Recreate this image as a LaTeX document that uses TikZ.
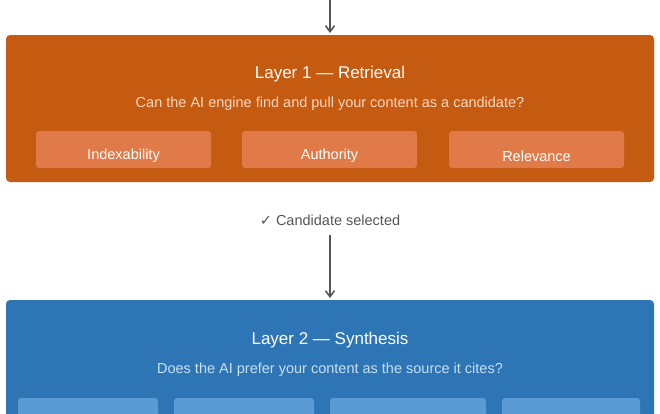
\documentclass[tikz,border=0pt]{standalone}
\usepackage{fontspec}
\setmainfont{Liberation Sans}
\newfontfamily\symfont{DejaVu Sans}
\usetikzlibrary{arrows.meta}
\definecolor{retOrange}{HTML}{C55A11}
\definecolor{retLight}{HTML}{E07A48}
\definecolor{retText}{HTML}{FBD9C2}
\definecolor{synBlue}{HTML}{2E75B6}
\definecolor{synLight}{HTML}{5B9BD5}
\definecolor{synText}{HTML}{C9DFF2}
\definecolor{flowGray}{HTML}{555555}
\begin{document}
\begin{tikzpicture}[x=1pt,y=1pt,yscale=-1,
  layer/.style={rounded corners=4pt},
  factor/.style={rounded corners=3pt},
  flow/.style={draw=flowGray,line width=1.6pt,-{Straight Barb[length=6pt,width=9pt]}},
  title/.style={text=white,font=\fontsize{17}{20}\selectfont},
  question/.style={font=\fontsize{14.5}{17}\selectfont},
  factorlabel/.style={text=white,font=\fontsize{14.5}{17}\selectfont}]
\useasboundingbox (0,0) rectangle (660,413);

%Layer 1
\fill[retOrange,layer] (6,35) rectangle (654,182);
\node[title] (l1title) at (330,74) {Layer 1 — Retrieval};
\node[question,text=retText] (l1q) at (330,104) {Can the AI engine find and pull your content as a candidate?};
\fill[retLight,factor] (36,131) rectangle (211,168);
\fill[retLight,factor] (242,131) rectangle (417,168);
\fill[retLight,factor] (449,131) rectangle (624,168);
\node[factorlabel] (idx) at (123.5,156) {Indexability};
\node[factorlabel] (auth) at (329.5,156) {Authority};
\node[factorlabel] (rel) at (536.5,156) {Relevance};

%Layer 2
\fill[synBlue,layer] (6,300) rectangle (654,430);
\node[title] (l2title) at (330,340) {Layer 2 — Synthesis};
\node[question,text=synText] (l2q) at (330,370) {Does the AI prefer your content as the source it cites?};
\fill[synLight,factor] (18,398) rectangle (158,430);
\fill[synLight,factor] (174,398) rectangle (314,430);
\fill[synLight,factor] (330,398) rectangle (486,430);
\fill[synLight,factor] (502,398) rectangle (640,430);

%Connectors
\coordinate (top) at (330,0);
\coordinate (l1in) at (330,33);
\coordinate (l1out) at (330,235);
\coordinate (l2in) at (330,298);
\node[text=flowGray,font=\fontsize{14.5}{17}\selectfont] (sel) at (330,220) {{\symfont ✓} Candidate selected};
\draw[flow] (top) -- (l1in);
\draw[flow] (l1out) -- (l2in);
\end{tikzpicture}
\end{document}
